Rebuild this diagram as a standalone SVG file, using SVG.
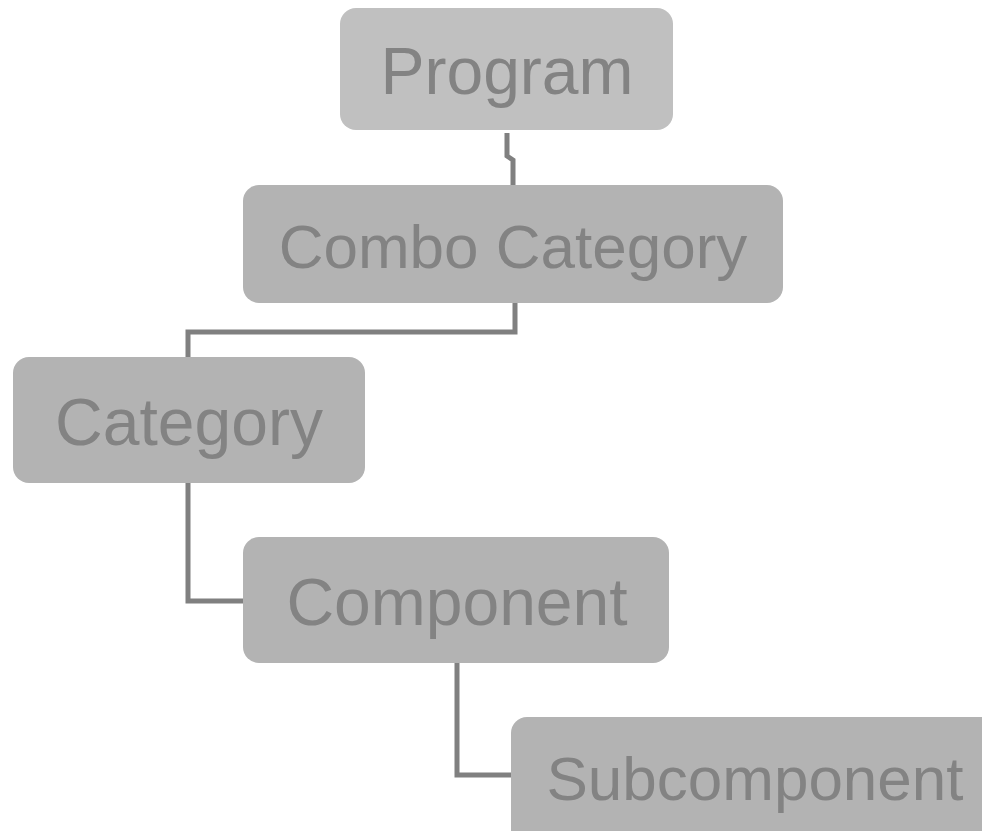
<svg xmlns="http://www.w3.org/2000/svg" width="982" height="831" viewBox="0 0 982 831">
<style>
.box{fill:#b3b3b3}
.top{fill:#c0c0c0}
.lbl{font-family:"Liberation Sans",Arial,sans-serif;fill:#838383;text-anchor:middle}
.big{font-size:66px}
.mid{font-size:62px}
.conn{fill:none;stroke:#808080;stroke-width:5}
</style>
<rect width="982" height="831" fill="#ffffff"/>
<g id="connectors">
<path class="conn" d="M507,133 V156 L513,160 V185"/>
<path class="conn" d="M515,303 V332 H188 V357"/>
<path class="conn" d="M188,483 V601 H243"/>
<path class="conn" d="M457,663 V775 H511"/>
</g>
<g id="program">
<rect class="top" x="340" y="8" width="333" height="122" rx="16"/>
<text class="lbl big" x="507" y="94">Program</text>
</g>
<g id="combo-category">
<rect class="box" x="243" y="185" width="540" height="118" rx="16"/>
<text class="lbl mid" x="513" y="268">Combo Category</text>
</g>
<g id="category">
<rect class="box" x="13" y="357" width="352" height="126" rx="16"/>
<text class="lbl big" x="189" y="445">Category</text>
</g>
<g id="component">
<rect class="box" x="243" y="537" width="426" height="126" rx="16"/>
<text class="lbl big" x="457" y="625">Component</text>
</g>
<g id="subcomponent">
<rect class="box" x="511" y="717" width="500" height="140" rx="16"/>
<text class="lbl mid" x="755" y="800">Subcomponent</text>
</g>
</svg>
